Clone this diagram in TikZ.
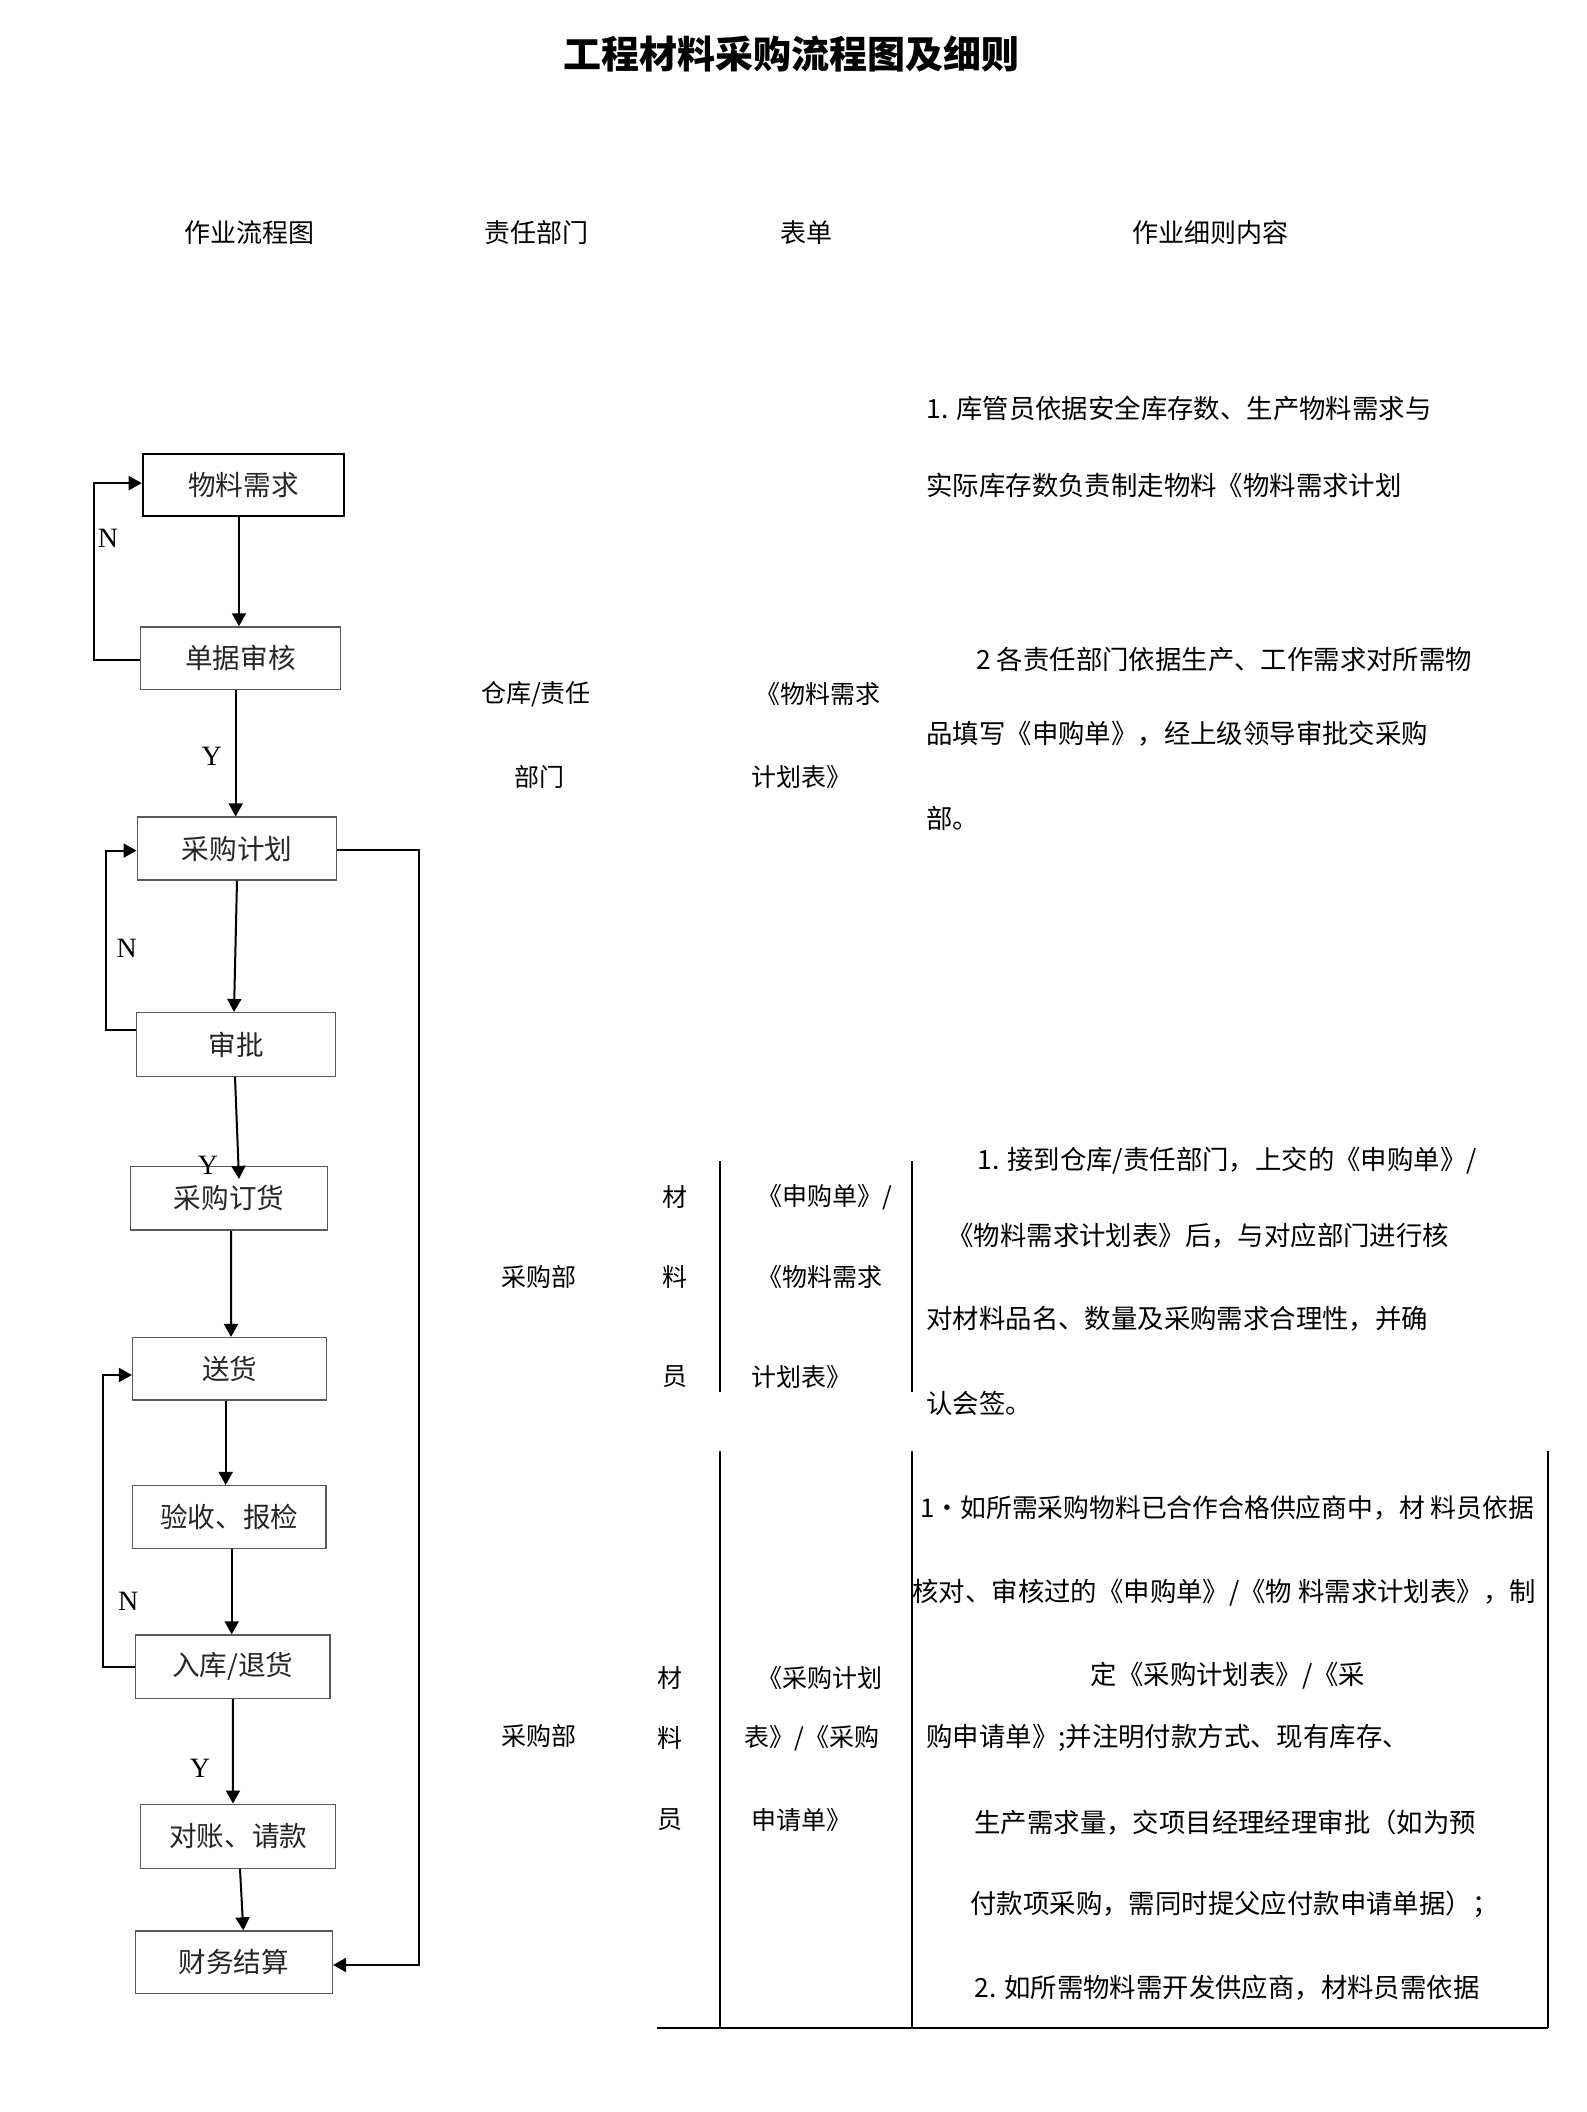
\documentclass[tikz,border=0pt]{standalone}
\usepackage{fontspec}
\setmainfont{Noto Sans CJK SC}
\newfontfamily\tms{Liberation Serif}
\usetikzlibrary{arrows.meta}
\begin{document}
\begin{tikzpicture}[x=0.5pt,y=-0.5pt,
  box/.style={draw=black!65, line width=0.75pt, inner sep=0pt,
    font=\fontsize{13.8pt}{15pt}\selectfont, text=black!85},
  arr/.style={-{Triangle[length=6.5pt,width=7pt]}, line width=1pt, black},
  lab/.style={font=\tms\fontsize{14pt}{16pt}\selectfont, inner sep=0pt},
  hdr/.style={font=\fontsize{13pt}{15pt}\selectfont, inner sep=0pt},
  txt/.style={font=\fontsize{13.2pt}{15pt}\selectfont, inner sep=0pt, anchor=west},
  ctxt/.style={font=\fontsize{12.5pt}{15pt}\selectfont, inner sep=0pt},
  mtxt/.style={font=\fontsize{12.5pt}{15pt}\selectfont, inner sep=0pt, anchor=west},
  tline/.style={line width=0.6pt, black}]
\useasboundingbox[fill=white] (0,0) rectangle (1586,2112);

% title and headers
\node[font=\bfseries\fontsize{19pt}{22pt}\selectfont, inner sep=0pt] (title) at (791,54) {工程材料采购流程图及细则};
\node[hdr] (h1) at (249,233) {作业流程图};
\node[hdr] (h2) at (536,233) {责任部门};
\node[hdr] (h3) at (806,233) {表单};
\node[hdr] (h4) at (1210,233) {作业细则内容};

% flowchart boxes
\node[box, draw=black, line width=1pt, minimum width=100.8pt, minimum height=31pt] (n1) at (243.5,485.4) {物料需求};
\node[box, minimum width=99.8pt, minimum height=31.2pt] (n2) at (240.5,658.2) {单据审核};
\node[box, minimum width=99.7pt, minimum height=31.4pt] (n3) at (237,848.6) {采购计划};
\node[box, minimum width=99.7pt, minimum height=31.8pt] (n4) at (236,1044.5) {审批};
\node[box, minimum width=98.3pt, minimum height=31.65pt] (n5) at (229,1198.3) {采购订货};
\node[box, minimum width=97pt, minimum height=31.15pt] (n6) at (229.7,1368.8) {送货};
\node[box, minimum width=96.85pt, minimum height=31.3pt] (n7) at (229.2,1517) {验收、报检};
\node[box, minimum width=97.15pt, minimum height=31.65pt] (n8) at (232.8,1666.7) {入库/退货};
\node[box, minimum width=97.5pt, minimum height=32pt] (n9) at (238.2,1836.3) {对账、请款};
\node[box, minimum width=98.5pt, minimum height=31.15pt] (n10) at (233.8,1962.2) {财务结算};

% main arrows
\draw[arr] ([xshift=-2.25pt]n1.south) -- ([xshift=-0.75pt]n2.north);
\draw[arr] ([xshift=-2.4pt]n2.south) -- ([xshift=-0.65pt]n3.north);
\draw[arr] (n3.south) -- ([xshift=-1pt]n4.north);
\draw[arr] ([xshift=-0.5pt]n4.south) -- ([xshift=5pt,yshift=-6.5pt]n5.north);
\draw[arr] ([xshift=1pt]n5.south) -- ([xshift=0.65pt]n6.north);
\draw[arr] ([xshift=-2pt]n6.south) -- ([xshift=-1.75pt]n7.north);
\draw[arr] ([xshift=1.25pt]n7.south) -- ([xshift=-0.55pt]n8.north);
\draw[arr] (n8.south) -- ([xshift=-2.6pt]n9.north);
\draw[arr] ([xshift=0.9pt]n9.south) -- ([xshift=4.75pt]n10.north);

% loops
\draw[arr] ([yshift=-0.9pt]n2.west) -- ++(-46,0) |- ([yshift=1.15pt]n1.west);
\draw[arr] ([yshift=7.25pt]n4.west) -- ++(-29.6,0) |- ([yshift=-1pt]n3.west);
\draw[arr] (n8.west) -- ++(-32.4,0) |- ([yshift=-3.1pt]n6.west);
\draw[arr] ([yshift=-0.6pt]n3.east) -- ++(82,0) |- ([yshift=-1.4pt]n10.east);

% Y / N labels
\node[lab] (ln1) at (108,538.6) {N};
\node[lab] (ly1) at (211.7,756.8) {Y};
\node[lab] (ln2) at (126.7,948) {N};
\node[lab] (ly2) at (208,1165) {Y};
\node[lab] (ln3) at (128.3,1601.7) {N};
\node[lab] (ly3) at (200,1768) {Y};

% block 1
\node[ctxt] (d1a) at (536,694) {仓库/责任};
\node[ctxt] (d1b) at (539,777) {部门};
\node[mtxt] (f1a) at (755,694) {《物料需求};
\node[mtxt] (f1b) at (751,777) {计划表》};
\node[txt] (c1a) at (926,408) {1. 库管员依据安全库存数、生产物料需求与};
\node[txt] (c1b) at (926,485) {实际库存数负责制走物料《物料需求计划};
\node[txt] (c1c) at (976,659) {2 各责任部门依据生产、工作需求对所需物};
\node[txt] (c1d) at (926,734) {品填写《申购单》，经上级领导审批交采购};
\node[txt] (c1e) at (926,818) {部。};

% block 2
\draw[tline] (720,1161) -- (720,1392);
\draw[tline] (912,1161) -- (912,1392);
\node[ctxt] (d2) at (539,1277) {采购部};
\node[ctxt] (p2a) at (675,1197) {材};
\node[ctxt] (p2b) at (675,1277) {料};
\node[ctxt] (p2c) at (675,1377) {员};
\node[mtxt] (f2a) at (757,1197) {《申购单》/};
\node[mtxt] (f2b) at (757,1277) {《物料需求};
\node[mtxt] (f2c) at (751,1377) {计划表》};
\node[txt] (c2a) at (977,1161) {1. 接到仓库/责任部门，上交的《申购单》/};
\node[txt] (c2b) at (947,1236) {《物料需求计划表》后，与对应部门进行核};
\node[txt] (c2c) at (926,1319) {对材料品名、数量及采购需求合理性，并确};
\node[txt] (c2d) at (926,1403) {认会签。};

% block 3
\draw[tline] (720,1451) -- (720,2028);
\draw[tline] (912,1451) -- (912,2028);
\draw[tline] (1548,1451) -- (1548,2028);
\draw[line width=1pt] (657,2028) -- (1548,2028);
\node[ctxt] (d3) at (539,1736) {采购部};
\node[ctxt] (p3a) at (670,1678) {材};
\node[ctxt] (p3b) at (670,1738) {料};
\node[ctxt] (p3c) at (670,1820) {员};
\node[mtxt] (f3a) at (757,1678) {《采购计划};
\node[mtxt] (f3b) at (744,1738) {表》/《采购};
\node[mtxt] (f3c) at (751,1820) {申请单》};
\node[txt, font=\fontsize{12.9pt}{15pt}\selectfont] (c3a) at (920,1508) {1·如所需采购物料已合作合格供应商中，材 料员依据};
\node[txt] (c3b) at (912,1593) {核对、审核过的《申购单》/《物 料需求计划表》，制};
\node[txt, anchor=center] (c3c) at (1228,1676) {定《采购计划表》/《采};
\node[txt] (c3d) at (926,1738) {购申请单》;并注明付款方式、现有库存、};
\node[txt] (c3e) at (974,1823) {生产需求量，交项目经理经理审批（如为预};
\node[txt] (c3f) at (970,1904) {付款项采购，需同时提父应付款申请单据）；};
\node[txt] (c3g) at (974,1988) {2. 如所需物料需开发供应商，材料员需依据};
\end{tikzpicture}
\end{document}
